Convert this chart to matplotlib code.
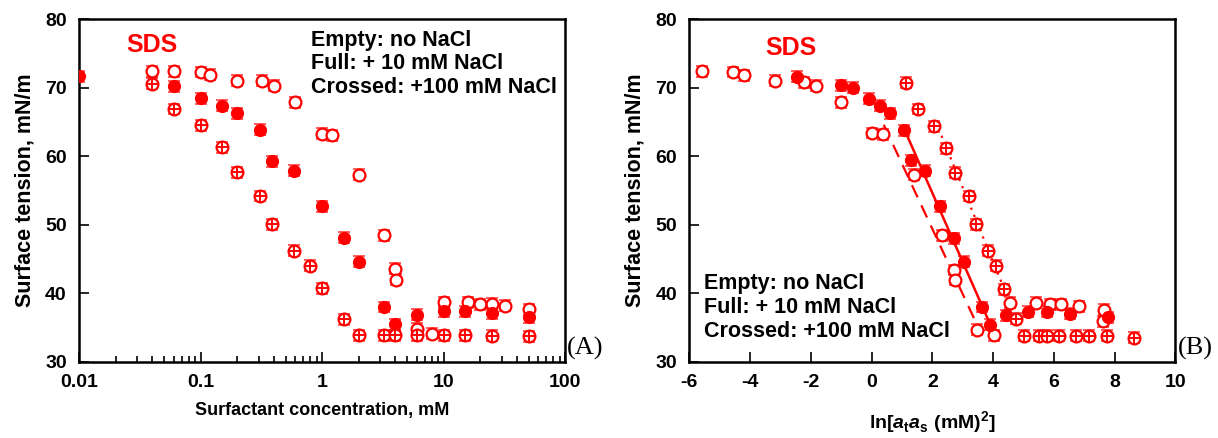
import numpy as np
import matplotlib
matplotlib.use('Agg')
import matplotlib.pyplot as plt
from matplotlib.ticker import LogLocator, FuncFormatter, NullFormatter

plt.rcParams['font.family'] = ['Liberation Sans', 'DejaVu Sans']
plt.rcParams['font.weight'] = 'bold'
plt.rcParams['axes.unicode_minus'] = False
plt.rcParams['mathtext.fontset'] = 'custom'
plt.rcParams['mathtext.bf'] = 'Liberation Sans:bold'
plt.rcParams['mathtext.bfit'] = 'Liberation Sans:italic:bold'
plt.rcParams['mathtext.rm'] = 'Liberation Sans:bold'

RED = '#ff0000'
ERR = 0.8

# ---- panel A: surface tension vs. concentration (mM) ----
a_empty_c = [0.04, 0.06, 0.1, 0.12, 0.2, 0.32, 0.4, 0.6, 1.0, 1.2, 2.0, 3.2, 4.0, 4.07,
             6.0, 8.0, 10, 16, 20, 25, 32, 50]
a_empty_st = [72.4, 72.4, 72.3, 71.9, 71.0, 71.0, 70.3, 67.9, 63.3, 63.1, 57.3, 48.5, 43.6, 42.0,
              34.8, 34.1, 38.7, 38.7, 38.4, 38.5, 38.2, 37.7]

a_full_c = [0.01, 0.06, 0.1, 0.15, 0.2, 0.31, 0.39, 0.59, 1.0, 1.5, 2.0, 3.2, 4.0, 6.0,
            10, 15, 25, 50]
a_full_st = [71.7, 70.2, 68.5, 67.4, 66.3, 63.9, 59.3, 57.9, 52.7, 48.1, 44.6, 38.0, 35.5, 36.9,
             37.4, 37.4, 37.1, 36.5]

a_cross_c = [0.04, 0.06, 0.1, 0.15, 0.2, 0.31, 0.39, 0.59, 0.8, 1.0, 1.5, 2.0, 3.2, 4.0,
             6.0, 10, 15, 25, 50]
a_cross_st = [70.6, 66.9, 64.5, 61.3, 57.7, 54.2, 50.1, 46.2, 44.0, 40.7, 36.2, 33.9, 33.9, 33.9,
              33.9, 33.9, 33.9, 33.8, 33.7]

# ---- panel B: surface tension vs. ln[at*as] ----
b_empty_x = [-5.6, -4.57, -4.19, -3.17, -2.24, -1.82, -1.0, 0.01, 0.38, 1.38, 2.32, 2.70,
             2.73, 3.47, 4.04, 4.55, 5.41, 5.88, 6.24, 6.82, 7.61, 7.66]
b_empty_st = [72.4, 72.3, 71.8, 71.0, 70.8, 70.3, 67.9, 63.4, 63.2, 57.3, 48.5, 43.4,
              42.0, 34.7, 33.9, 38.6, 38.6, 38.4, 38.4, 38.1, 35.9, 37.6]

b_full_x = [-2.45, -1.01, -0.62, -0.10, 0.29, 0.59, 1.08, 1.31, 1.75, 2.26, 2.72, 3.05,
            3.64, 3.91, 4.41, 5.14, 5.78, 6.54, 7.77]
b_full_st = [71.6, 70.4, 70.0, 68.4, 67.4, 66.3, 63.8, 59.4, 57.9, 52.7, 48.0, 44.6,
             38.0, 35.4, 36.8, 37.3, 37.3, 37.0, 36.5]

b_cross_x = [1.13, 1.53, 2.04, 2.45, 2.73, 3.22, 3.43, 3.84, 4.10, 4.35, 4.76, 5.03, 5.52,
             5.78, 6.18, 6.74, 7.17, 7.75, 8.63]
b_cross_st = [70.7, 66.9, 64.4, 61.2, 57.6, 54.2, 50.1, 46.2, 44.0, 40.6, 36.3, 33.8, 33.8,
              33.8, 33.8, 33.8, 33.8, 33.8, 33.5]

# fitted straight lines in panel B
fit_empty_x = [0.40, 3.45]
fit_empty_st = [64.6, 35.6]
fit_full_x = [1.14, 3.89]
fit_full_st = [63.3, 35.6]
fit_cross_x = [2.3, 4.6]
fit_cross_st = [63.0, 38.1]

LEGEND_TEXT = 'Empty: no NaCl\nFull: + 10 mM NaCl\nCrossed: +100 mM NaCl'


def draw_series(ax, x, y, kind):
    ax.errorbar(x, y, yerr=ERR, fmt='none', ecolor=RED, elinewidth=1.2,
                capsize=4, capthick=1.2, alpha=0.75, zorder=2)
    if kind == 'full':
        ax.plot(x, y, 'o', ms=8.5, mfc=RED, mec=RED, ls='none', zorder=3)
    else:
        ax.plot(x, y, 'o', ms=8.5, mfc='white', mec=RED, mew=1.6, ls='none', zorder=3)
        if kind == 'cross':
            ax.plot(x, y, '+', ms=8.5, mec=RED, mew=1.4, ls='none', zorder=4)


def style_axes(ax):
    for sp in ax.spines.values():
        sp.set_linewidth(1.8)
    ax.tick_params(which='both', direction='in', top=False, right=False,
                   labelsize=14, width=1.2)
    ax.tick_params(which='major', length=7, pad=9)
    ax.tick_params(which='minor', length=4)
    ax.set_ylim(30, 80)
    ax.set_yticks([30, 40, 50, 60, 70, 80])
    ax.set_ylabel('Surface tension, mN/m', fontsize=15.5, fontweight='bold', labelpad=7)


fig = plt.figure(figsize=(12.18, 4.38), dpi=100)
axA = fig.add_axes([0.065, 0.174, 0.399, 0.782])
axB = fig.add_axes([0.566, 0.174, 0.399, 0.782])

# panel A
draw_series(axA, a_empty_c, a_empty_st, 'empty')
draw_series(axA, a_full_c, a_full_st, 'full')
draw_series(axA, a_cross_c, a_cross_st, 'cross')
axA.set_xscale('log')
axA.set_xlim(0.01, 100)
axA.xaxis.set_major_locator(LogLocator(base=10))
axA.xaxis.set_minor_locator(LogLocator(base=10, subs=np.arange(2, 10)))
axA.xaxis.set_major_formatter(FuncFormatter(lambda v, p: f'{v:g}'))
axA.xaxis.set_minor_formatter(NullFormatter())
style_axes(axA)
axA.set_xlabel('Surfactant concentration, mM', fontsize=13, fontweight='bold', labelpad=8)
axA.text(0.15, 0.925, 'SDS', transform=axA.transAxes, color=RED, fontsize=18,
         fontweight='bold', ha='center', va='center')
axA.text(0.477, 0.97, LEGEND_TEXT, transform=axA.transAxes, fontsize=15.5,
         fontweight='bold', ha='left', va='top', linespacing=1.17)
fig.text(0.4655, 0.205, '(A)', fontsize=19, family=['Liberation Serif', 'DejaVu Serif'],
         fontweight='normal', ha='left', va='center')

# panel B
axB.plot(fit_empty_x, fit_empty_st, color=RED, lw=1.6, ls=(0, (6, 4)), zorder=1)
axB.plot(fit_full_x, fit_full_st, color=RED, lw=1.8, ls='-', zorder=1)
axB.plot(fit_cross_x, fit_cross_st, color=RED, lw=1.6, ls=(0, (1, 2.5)), zorder=1)
draw_series(axB, b_empty_x, b_empty_st, 'empty')
draw_series(axB, b_full_x, b_full_st, 'full')
draw_series(axB, b_cross_x, b_cross_st, 'cross')
axB.set_xlim(-6, 10)
axB.set_xticks(np.arange(-6, 11, 2))
style_axes(axB)
axB.set_xlabel(r'ln[$\mathbfit{a}_\mathbf{t}\mathbfit{a}_\mathbf{s}$ (mM)$^\mathbf{2}$]',
               fontsize=14, fontweight='bold', labelpad=13)
axB.text(0.208, 0.917, 'SDS', transform=axB.transAxes, color=RED, fontsize=18,
         fontweight='bold', ha='center', va='center')
axB.text(0.031, 0.258, LEGEND_TEXT, transform=axB.transAxes, fontsize=15.5,
         fontweight='bold', ha='left', va='top', linespacing=1.17)
fig.text(0.967, 0.205, '(B)', fontsize=19, family=['Liberation Serif', 'DejaVu Serif'],
         fontweight='normal', ha='left', va='center')

fig.savefig('out.png', dpi=100)
